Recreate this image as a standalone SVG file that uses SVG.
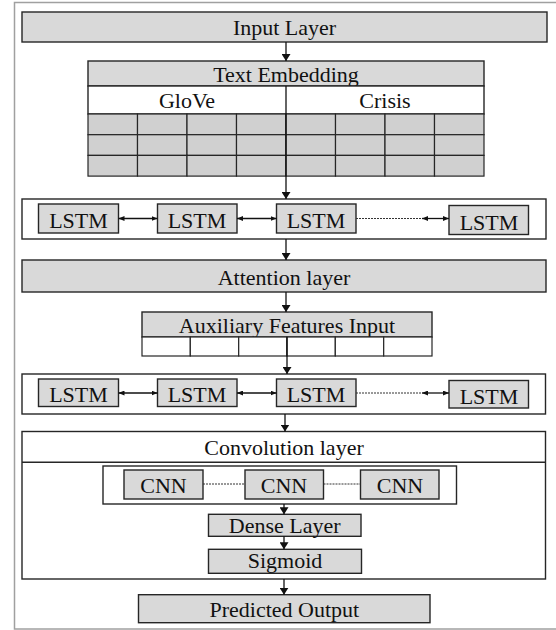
<svg xmlns="http://www.w3.org/2000/svg" width="556" height="630" viewBox="0 0 556 630">
<style>
.box{fill:#d9d9d9;stroke:#262626;stroke-width:1.4}
.wbox{fill:#ffffff;stroke:#262626;stroke-width:1.4}
.cell{fill:#d0d0d0;stroke:#262626;stroke-width:1.2}
.wcell{fill:#ffffff;stroke:#262626;stroke-width:1.2}
text{font-family:'Liberation Serif',serif;font-size:22px;fill:#111;text-anchor:middle}
.c{fill:none;stroke:#111;stroke-width:1.3}
.d{fill:none;stroke:#333;stroke-width:1;stroke-dasharray:2,1}
</style>
<defs>
<marker id="ah" viewBox="0 0 7 9" refX="7" refY="4.5" markerWidth="7" markerHeight="9" markerUnits="userSpaceOnUse" orient="auto"><path d="M0,0 L7,4.5 L0,9 z" fill="#111"/></marker>
<marker id="sh" viewBox="0 0 6 5" refX="6" refY="2.5" markerWidth="6" markerHeight="5" markerUnits="userSpaceOnUse" orient="auto-start-reverse"><path d="M0,0 L6,2.5 L0,5 z" fill="#111"/></marker>
</defs>
<g font-family="Liberation Serif, serif">
<rect x="14.5" y="2.5" width="560" height="626.5" fill="#ffffff" stroke="#a0a0a0" stroke-width="1.5"/>

<g id="input-layer"><rect class="box" x="22" y="12" width="525" height="30"/><text x="284.5" y="35">Input Layer</text></g>

<g id="text-embedding">
<rect class="box" x="88" y="61" width="396" height="25"/><text x="286" y="82">Text Embedding</text>
<rect class="wbox" x="88" y="86" width="396" height="28"/>
<text x="187" y="108">GloVe</text><text x="385" y="108">Crisis</text>
<g>
<rect class="cell" x="88" y="114" width="49.5" height="20.7"/><rect class="cell" x="137.5" y="114" width="49.5" height="20.7"/><rect class="cell" x="187" y="114" width="49.5" height="20.7"/><rect class="cell" x="236.5" y="114" width="49.5" height="20.7"/><rect class="cell" x="286" y="114" width="49.5" height="20.7"/><rect class="cell" x="335.5" y="114" width="49.5" height="20.7"/><rect class="cell" x="385" y="114" width="49.5" height="20.7"/><rect class="cell" x="434.5" y="114" width="49.5" height="20.7"/>
<rect class="cell" x="88" y="134.7" width="49.5" height="20.7"/><rect class="cell" x="137.5" y="134.7" width="49.5" height="20.7"/><rect class="cell" x="187" y="134.7" width="49.5" height="20.7"/><rect class="cell" x="236.5" y="134.7" width="49.5" height="20.7"/><rect class="cell" x="286" y="134.7" width="49.5" height="20.7"/><rect class="cell" x="335.5" y="134.7" width="49.5" height="20.7"/><rect class="cell" x="385" y="134.7" width="49.5" height="20.7"/><rect class="cell" x="434.5" y="134.7" width="49.5" height="20.7"/>
<rect class="cell" x="88" y="155.4" width="49.5" height="20.7"/><rect class="cell" x="137.5" y="155.4" width="49.5" height="20.7"/><rect class="cell" x="187" y="155.4" width="49.5" height="20.7"/><rect class="cell" x="236.5" y="155.4" width="49.5" height="20.7"/><rect class="cell" x="286" y="155.4" width="49.5" height="20.7"/><rect class="cell" x="335.5" y="155.4" width="49.5" height="20.7"/><rect class="cell" x="385" y="155.4" width="49.5" height="20.7"/><rect class="cell" x="434.5" y="155.4" width="49.5" height="20.7"/>
</g>
</g>

<g id="lstm-layer-1">
<rect class="wbox" x="22" y="199" width="524" height="40"/>
<g id="lstm1-a"><rect class="box" x="38.5" y="204" width="80" height="29"/><text x="78.5" y="228">LSTM</text></g>
<g id="lstm1-b"><rect class="box" x="157.5" y="204" width="79.5" height="29"/><text x="197" y="228">LSTM</text></g>
<g id="lstm1-c"><rect class="box" x="276.5" y="204" width="79.5" height="29"/><text x="316" y="228">LSTM</text></g>
<g id="lstm1-d"><rect class="box" x="449" y="205.5" width="79.5" height="29"/><text x="489" y="229.5">LSTM</text></g>
</g>

<g id="attention-layer"><rect class="box" x="22" y="260" width="524" height="32"/><text x="284" y="285">Attention layer</text></g>

<g id="auxiliary-features">
<rect class="box" x="142" y="312" width="290" height="25"/><text x="287" y="333">Auxiliary Features Input</text>
<rect class="wcell" x="142" y="337" width="48.3" height="19"/><rect class="wcell" x="190.3" y="337" width="48.4" height="19"/><rect class="wcell" x="238.7" y="337" width="48.3" height="19"/><rect class="wcell" x="287" y="337" width="48.3" height="19"/><rect class="wcell" x="335.3" y="337" width="48.4" height="19"/><rect class="wcell" x="383.7" y="337" width="48.3" height="19"/>
</g>

<g id="lstm-layer-2">
<rect class="wbox" x="22" y="374" width="523.5" height="40"/>
<g id="lstm2-a"><rect class="box" x="38.5" y="379" width="80" height="27.5"/><text x="78.5" y="402">LSTM</text></g>
<g id="lstm2-b"><rect class="box" x="157.5" y="379" width="79.5" height="27.5"/><text x="197" y="402">LSTM</text></g>
<g id="lstm2-c"><rect class="box" x="276.5" y="379" width="79.5" height="27.5"/><text x="316" y="402">LSTM</text></g>
<g id="lstm2-d"><rect class="box" x="449" y="380.5" width="79.5" height="27.5"/><text x="489" y="403.5">LSTM</text></g>
</g>

<g id="convolution-layer">
<rect class="wbox" x="22" y="431.5" width="523.5" height="147.5"/>
<line x1="22" y1="462.3" x2="545.5" y2="462.3" stroke="#262626" stroke-width="1.4"/>
<text x="284" y="455">Convolution layer</text>
<rect class="wbox" x="103" y="466" width="353.5" height="38"/>
<g id="cnn-a"><rect class="box" x="124" y="470" width="79" height="29"/><text x="163.5" y="493">CNN</text></g>
<g id="cnn-b"><rect class="box" x="245" y="470" width="78.5" height="29"/><text x="284" y="493">CNN</text></g>
<g id="cnn-c"><rect class="box" x="360.5" y="470" width="78.5" height="29"/><text x="400" y="493">CNN</text></g>
<g id="dense-layer"><rect class="box" x="208.5" y="514.3" width="152.5" height="22"/><text x="284.7" y="532.5">Dense Layer</text></g>
<g id="sigmoid"><rect class="box" x="208.5" y="549.3" width="153" height="24"/><text x="285" y="567.5">Sigmoid</text></g>
</g>

<g id="predicted-output"><rect class="box" x="138.5" y="594.7" width="291.5" height="28"/><text x="284.3" y="616.5">Predicted Output</text></g>

<g id="connectors">
<line class="c" x1="286" y1="42" x2="286" y2="61" marker-end="url(#ah)"/>
<line class="c" x1="286" y1="86" x2="286" y2="199" marker-end="url(#ah)"/>
<line class="c" x1="286" y1="239" x2="286" y2="260" marker-end="url(#ah)"/>
<line class="c" x1="286" y1="292" x2="286" y2="312" marker-end="url(#ah)"/>
<line class="c" x1="287" y1="337" x2="287" y2="374" marker-end="url(#ah)"/>
<line class="c" x1="285" y1="414" x2="285" y2="431.5" marker-end="url(#ah)"/>
<line class="c" x1="284" y1="504" x2="284" y2="514.3" marker-end="url(#ah)"/>
<line class="c" x1="284" y1="536.3" x2="284" y2="549.3" marker-end="url(#ah)"/>
<line class="c" x1="284" y1="579" x2="284" y2="594.7" marker-end="url(#ah)"/>
<line class="c" x1="118.5" y1="218.5" x2="157.5" y2="218.5" marker-start="url(#sh)" marker-end="url(#sh)"/>
<line class="c" x1="237" y1="218.5" x2="276.5" y2="218.5" marker-start="url(#sh)" marker-end="url(#sh)"/>
<line class="d" x1="356" y1="218.5" x2="422" y2="218.5"/>
<line class="c" x1="422" y1="218.5" x2="449" y2="218.5" marker-start="url(#sh)" marker-end="url(#sh)"/>
<line class="c" x1="118.5" y1="393" x2="157.5" y2="393" marker-start="url(#sh)" marker-end="url(#sh)"/>
<line class="c" x1="237" y1="393" x2="276.5" y2="393" marker-start="url(#sh)" marker-end="url(#sh)"/>
<line class="d" x1="356" y1="393" x2="422" y2="393"/>
<line class="c" x1="422" y1="393" x2="449" y2="393" marker-start="url(#sh)" marker-end="url(#sh)"/>
<line class="d" x1="203" y1="484" x2="245" y2="484"/>
<line class="d" x1="323.5" y1="484" x2="360.5" y2="484"/>
</g>
</g>
</svg>
